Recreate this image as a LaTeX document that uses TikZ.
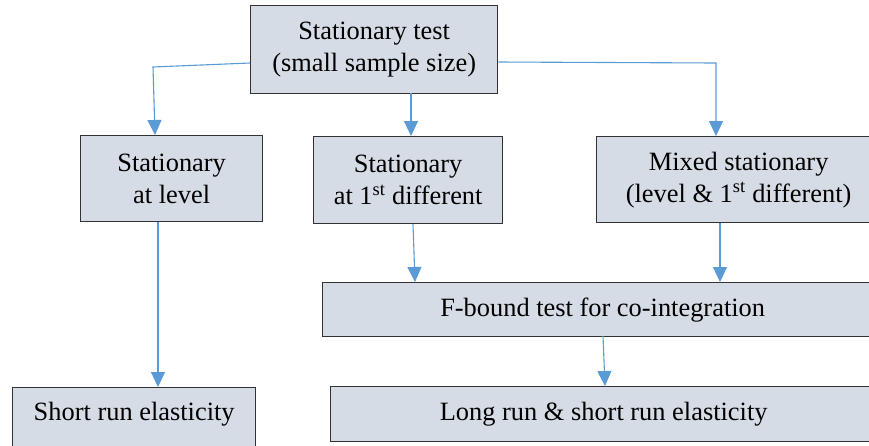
\documentclass[tikz,border=0pt]{standalone}
\usepackage{fontspec}
\setmainfont{Liberation Serif}
\usetikzlibrary{arrows.meta}
\definecolor{boxfill}{RGB}{214,220,229}
\definecolor{boxline}{RGB}{50,50,50}
\definecolor{arrowblue}{RGB}{91,155,213}
\begin{document}
\begin{tikzpicture}[x=1pt,y=-1pt,
  box/.style={draw=boxline, fill=boxfill, line width=1.3pt, align=center, inner sep=0pt,
    font=\fontsize{26.4}{32}\selectfont, anchor=north west},
  conn/.style={draw=arrowblue, line width=1.1pt, -{Triangle[width=14pt,length=15pt]}}
]
\useasboundingbox (0,0) rectangle (869,445);
\clip (0,0) rectangle (869,445);
\node[box, minimum width=247pt, minimum height=88pt] (top) at (250,5) {Stationary test\\(small sample size)};
\node[box, minimum width=182pt, minimum height=86pt] (lvl) at (80,135) {Stationary\\at level};
\node[box, minimum width=189pt, minimum height=87pt] (diff) at (313,136) {Stationary\\at 1\textsuperscript{st} different};
\node[box, minimum width=284pt, minimum height=86pt] (mixed) at (596,136) {Mixed stationary\\(level \& 1\textsuperscript{st} different)};
\node[box, minimum width=560pt, minimum height=54pt] (fb) at (322,282) {F-bound test for co-integration};
\node[box, minimum width=546pt, minimum height=55pt] (lr) at (330,386) {Long run \& short run elasticity};
\node[box, minimum width=243pt, text height=33pt, text depth=40pt] (sr) at (12,387) {Short run elasticity};
\coordinate (c1) at (153,67);
\coordinate (c2) at (716,63);
\draw[conn] (top.west |- 0,63) -- (c1) -- (155,135);
\draw[conn] (411,93) -- (diff.north -| 411,0);
\draw[conn] (top.east |- 0,62) -- (c2) -- (716,136);
\draw[conn] (158,222) -- (sr.north -| 158,0);
\draw[conn] (413,224) -- (fb.north -| 415,0);
\draw[conn] (720,223) -- (fb.north -| 720,0);
\draw[conn] (603,336) -- (lr.north -| 605,0);
\end{tikzpicture}
\end{document}
